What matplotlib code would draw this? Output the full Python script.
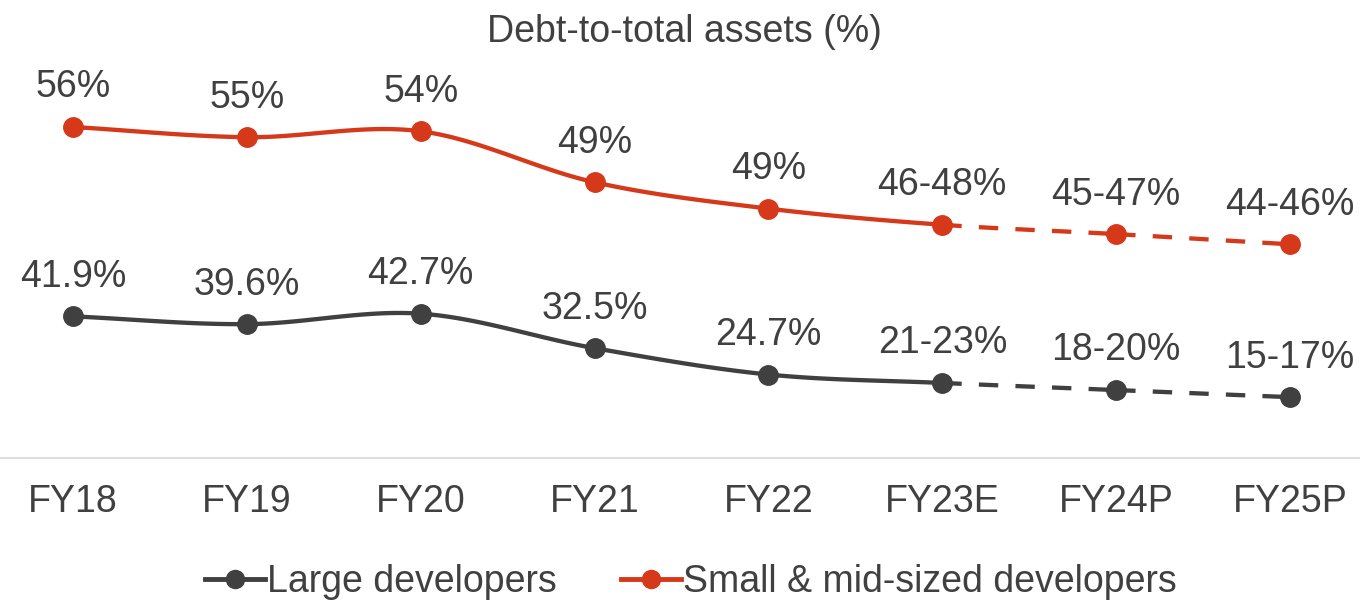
import numpy as np
import matplotlib.pyplot as plt
from matplotlib.lines import Line2D

plt.rcParams['font.family'] = ['Liberation Sans', 'DejaVu Sans']

categories = ['FY18', 'FY19', 'FY20', 'FY21', 'FY22', 'FY23E', 'FY24P', 'FY25P']
large_vals = [41.9, 39.6, 42.7, 32.5, 24.7, 22.2, 20.1, 18.0]
large_labels = ['41.9%', '39.6%', '42.7%', '32.5%', '24.7%', '21-23%', '18-20%', '15-17%']
small_vals = [56.0, 54.8, 55.5, 49.5, 46.4, 44.5, 43.4, 42.2]
small_labels = ['56%', '55%', '54%', '49%', '49%', '46-48%', '45-47%', '44-46%']

RED = '#D5391A'
GREY = '#404040'
TEXT = '#404040'
SPLIT = 5  # last actual point (FY23E), projections dashed after it


def smooth(x, y, n=30):
    """catmull-rom style curve through the points, like excel smoothed lines"""
    x = np.asarray(x, float)
    y = np.asarray(y, float)
    px = np.concatenate([[2 * x[0] - x[1]], x, [2 * x[-1] - x[-2]]])
    py = np.concatenate([[2 * y[0] - y[1]], y, [2 * y[-1] - y[-2]]])
    xs, ys = [], []
    for i in range(1, len(px) - 2):
        t = np.linspace(0, 1, n)
        for p, out in ((px, xs), (py, ys)):
            p0, p1, p2, p3 = p[i - 1], p[i], p[i + 1], p[i + 2]
            out.append(0.5 * ((2 * p1) + (-p0 + p2) * t
                              + (2 * p0 - 5 * p1 + 4 * p2 - p3) * t ** 2
                              + (-p0 + 3 * p1 - 3 * p2 + p3) * t ** 3))
    return xs, ys


fig = plt.figure(figsize=(13.6, 6.04), dpi=100)
ax = fig.add_axes([-14 / 1360, 146 / 604, 1391 / 1360, 458 / 604])
ax2 = ax.twinx()

x = np.arange(len(categories))


def draw(a, vals, labels, color):
    xs, ys = smooth(x, vals)
    for i, (sx, sy) in enumerate(zip(xs, ys)):
        ls = '-' if i < SPLIT else (0, (4.5, 4))
        a.plot(sx, sy, color=color, lw=3.1, ls=ls, solid_capstyle='butt', zorder=2)
    a.plot(x, vals, 'o', color=color, ms=14, zorder=3)
    for xi, v, lab in zip(x, vals, labels):
        a.annotate(lab, (xi, v), xytext=(0, 28.5), textcoords='offset points',
                   ha='center', va='center', fontsize=27, color=TEXT)


draw(ax, large_vals, large_labels, GREY)
draw(ax2, small_vals, small_labels, RED)

ax.set_xlim(-0.5, len(categories) - 0.5)
ax.set_ylim(0, 135.5)
ax2.set_ylim(17.06, 70.94)

for a in (ax, ax2):
    for s in ('top', 'right', 'left'):
        a.spines[s].set_visible(False)
    a.set_yticks([])
ax2.spines['bottom'].set_visible(False)
ax.spines['bottom'].set_color('#D9D9D9')
ax.spines['bottom'].set_linewidth(1.2)
ax.set_xticks(x)
ax.set_xticklabels(categories, fontsize=27, color=TEXT)
ax.tick_params(axis='x', length=0, pad=19)
ax.patch.set_visible(False)

fig.text(0.503, 0.947, 'Debt-to-total assets (%)', ha='center', va='center',
         fontsize=27, color=TEXT)

handles = [Line2D([], [], color=GREY, lw=3.5, marker='o', ms=13),
           Line2D([], [], color=RED, lw=3.5, marker='o', ms=13)]
fig.legend(handles, ['Large developers', 'Small & mid-sized developers'],
           loc='center', bbox_to_anchor=(0.508, 0.036), ncol=2, frameon=False,
           fontsize=27, labelcolor=TEXT, handlelength=1.6, handletextpad=0.05,
           columnspacing=1.7)

fig.savefig('out.png', dpi=100)
